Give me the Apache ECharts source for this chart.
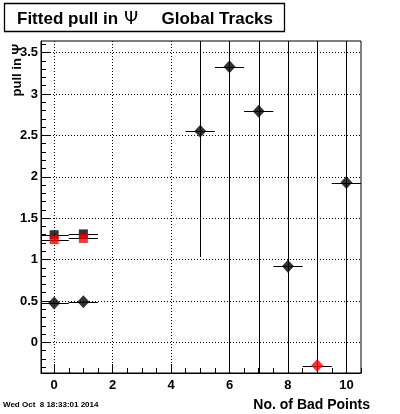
<!DOCTYPE html>
<html>
<head>
<meta charset="utf-8">
<script src="https://cdn.jsdelivr.net/npm/echarts@6/dist/echarts.min.js"></script>
<style>
html,body{margin:0;padding:0;background:#fff;}
#chart{width:400px;height:414px;}
</style>
</head>
<body>
<div id="chart"></div>
<script>
// ---- data ----
const diamondX    = [0, 1, 5, 6, 7, 8, 10];
const diamondY    = [0.475, 0.49, 2.55, 3.33, 2.79, 0.92, 1.93];
const diamondYErr = [0.005, 0.005, 1.52, 4.0, 4.0, 3.0, 3.5];

const redDiamondX    = [9];
const redDiamondY    = [-0.28];
const redDiamondYErr = [4.0];

const blackSquareX = [0, 1];
const blackSquareY = [1.30, 1.31];
const redSquareX   = [0, 1];
const redSquareY   = [1.24, 1.255];
const squareYErr   = [0.005, 0.005];

const xBinHalfWidth = 0.5;

const xMajorTicks = [0, 2, 4, 6, 8, 10];
const yMajorTicks = [0, 0.5, 1, 1.5, 2, 2.5, 3, 3.5];
const xMinorTicks = [];
for (let i = 1; i <= 21; i++) { const v = i / 2; if (v % 2 !== 0) xMinorTicks.push(v); }
const yMinorTicks = [];
for (let i = -3; i <= 36; i++) { if (i % 5 !== 0) yMinorTicks.push(i / 10); }

const xMin = -0.45, xMax = 10.5;
const yMin = -0.37, yMax = 3.64;

// ---- build ----
function errRows(xs, ys, yerrs) {
  return xs.map((x, i) => [x, ys[i], xBinHalfWidth, yerrs[i], yerrs[i]]);
}
const errData = []
  .concat(errRows(diamondX, diamondY, diamondYErr))
  .concat(errRows(redDiamondX, redDiamondY, redDiamondYErr))
  .concat(errRows(blackSquareX, blackSquareY, squareYErr))
  .concat(errRows(redSquareX, redSquareY, squareYErr));

function renderErr(params, api) {
  const cs = params.coordSys;
  const cx = v => Math.min(Math.max(v, cs.x), cs.x + cs.width);
  const cy = v => Math.min(Math.max(v, cs.y), cs.y + cs.height);
  const x = api.value(0), y = api.value(1), xe = api.value(2), yl = api.value(3), yh = api.value(4);
  const c = api.coord([x, y]);
  const l = api.coord([x - xe, y]);
  const r = api.coord([x + xe, y]);
  const b = api.coord([x, y - yl]);
  const t = api.coord([x, y + yh]);
  const px = Math.round(c[0]) + 0.5;
  const py = Math.round(c[1]) + 0.5;
  const style = { stroke: '#000', lineWidth: 1 };
  const children = [];
  if (c[1] >= cs.y && c[1] <= cs.y + cs.height) {
    children.push({ type: 'line', shape: { x1: cx(l[0]), y1: py, x2: cx(r[0]), y2: py }, style });
  }
  children.push({ type: 'line', shape: { x1: px, y1: cy(t[1]), x2: px, y2: cy(b[1]) }, style });
  return { type: 'group', children };
}

const font = 'Liberation Sans, Arial, Helvetica, sans-serif';
const chart = echarts.init(document.getElementById('chart'), null, { renderer: 'canvas' });

const option = {
  animation: false,
  backgroundColor: '#fff',
  grid: { left: 41, top: 41, width: 320, height: 332, show: true, borderColor: '#000', borderWidth: 1, backgroundColor: 'transparent' },
  xAxis: [
    {
      type: 'value', min: xMin, max: xMax, position: 'bottom',
      axisLine: { show: true, onZero: false, lineStyle: { color: '#000', width: 1 } },
      axisTick: { show: true, inside: true, length: 9, customValues: xMajorTicks, lineStyle: { color: '#000' } },
      axisLabel: { show: true, customValues: xMajorTicks, margin: 6, color: '#000', fontFamily: font, fontWeight: 'bold', fontSize: 13 },
      splitLine: { show: true, lineStyle: { color: '#000', width: 1, type: [1, 2] } }
    },
    {
      type: 'value', min: xMin, max: xMax, position: 'bottom',
      axisLine: { show: false, onZero: false },
      axisTick: { show: true, inside: true, length: 5, customValues: xMinorTicks, lineStyle: { color: '#000' } },
      axisLabel: { show: false },
      splitLine: { show: false }
    }
  ],
  yAxis: [
    {
      type: 'value', min: yMin, max: yMax, position: 'left',
      axisLine: { show: true, onZero: false, lineStyle: { color: '#000', width: 1 } },
      axisTick: { show: true, inside: true, length: 9, customValues: yMajorTicks, lineStyle: { color: '#000' } },
      axisLabel: { show: true, customValues: yMajorTicks, margin: 3, color: '#000', fontFamily: font, fontWeight: 'bold', fontSize: 13 },
      splitLine: { show: true, lineStyle: { color: '#000', width: 1, type: [1, 2] } }
    },
    {
      type: 'value', min: yMin, max: yMax, position: 'left',
      axisLine: { show: false, onZero: false },
      axisTick: { show: true, inside: true, length: 5, customValues: yMinorTicks, lineStyle: { color: '#000' } },
      axisLabel: { show: false },
      splitLine: { show: false }
    }
  ],
  series: [
    { type: 'custom', renderItem: renderErr, data: errData, encode: { x: 0, y: 1 }, silent: true, z: 2 },
    { type: 'scatter', data: blackSquareX.map((x, i) => [x, blackSquareY[i]]), symbol: 'rect', symbolSize: 9, itemStyle: { color: '#000' }, z: 3 },
    { type: 'scatter', data: redSquareX.map((x, i) => [x, redSquareY[i]]), symbol: 'rect', symbolSize: 9, itemStyle: { color: '#ff0000' }, z: 4 },
    { type: 'scatter', data: diamondX.map((x, i) => [x, diamondY[i]]), symbol: 'diamond', symbolSize: [12, 13], itemStyle: { color: '#000' }, z: 5 },
    { type: 'scatter', data: redDiamondX.map((x, i) => [x, redDiamondY[i]]), symbol: 'diamond', symbolSize: [12, 13], itemStyle: { color: '#ff0000' }, z: 5 }
  ],
  graphic: [
    { type: 'rect', shape: { x: 4.5, y: 3.5, width: 280, height: 28 }, style: { fill: '#fff', stroke: '#000', lineWidth: 1.3 }, z: 10 },
    { type: 'text', x: 17, y: 19, style: { text: 'Fitted pull in', font: 'bold 17px ' + font, fill: '#000', verticalAlign: 'middle', align: 'left' }, z: 11 },
    { type: 'text', x: 124, y: 19, style: { text: 'Ψ', font: '18px DejaVu Sans, sans-serif', fill: '#000', verticalAlign: 'middle', align: 'left' }, z: 11 },
    { type: 'text', x: 161.5, y: 19, style: { text: 'Global Tracks', font: 'bold 17px ' + font, fill: '#000', verticalAlign: 'middle', align: 'left' }, z: 11 },
    { type: 'text', x: 17, y: 44, rotation: Math.PI / 2, style: { text: 'pull in Ψ', font: 'bold 13px ' + font, fill: '#000', verticalAlign: 'middle', align: 'right' }, z: 11 },
    { type: 'text', x: 370, y: 405, style: { text: 'No. of Bad Points', font: 'bold 14px ' + font, fill: '#000', verticalAlign: 'middle', align: 'right' }, z: 11 },
    { type: 'text', x: 3, y: 404.5, style: { text: 'Wed Oct  8 18:33:01 2014', font: 'bold 8px ' + font, fill: '#000', verticalAlign: 'middle', align: 'left' }, z: 11 }
  ]
};
chart.setOption(option);
</script>
</body>
</html>
